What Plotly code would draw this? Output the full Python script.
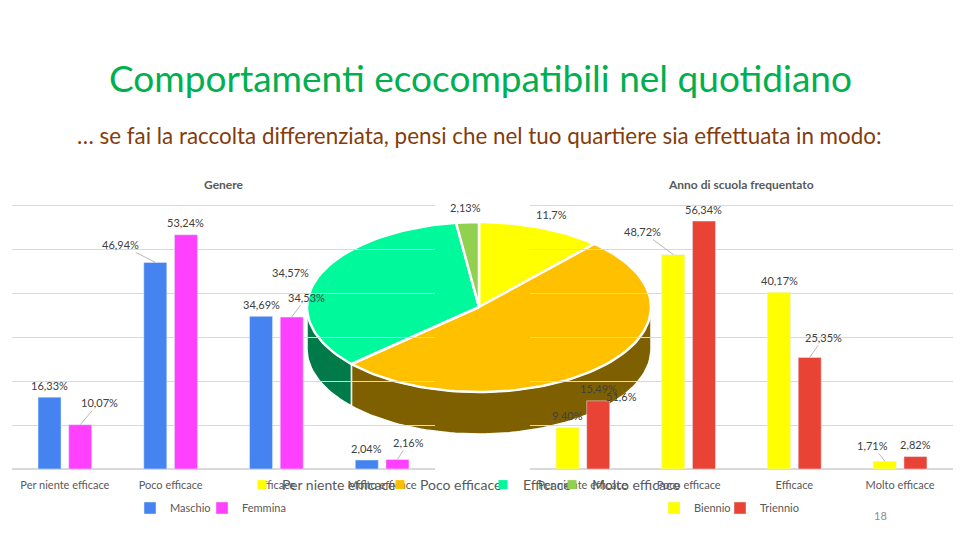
import numpy as np
import plotly.graph_objects as go

# ---------------- data ----------------
categories = ["Per niente efficace", "Poco efficace", "Efficace", "Molto efficace"]
maschio = [16.33, 46.94, 34.69, 2.04]
femmina = [10.07, 53.24, 34.53, 2.16]
biennio = [9.40, 48.72, 40.17, 1.71]
triennio = [15.49, 56.34, 25.35, 2.82]
pie_values = [11.7, 51.6, 34.57, 2.13]

# ---------------- styles ----------------
FONT = "Lato"
LBL = "#404040"
AX = "#595959"
GRID = "#D9D9D9"
col_m, col_f = "#4584F0", "#FF40FF"
col_b, col_t = "#FFFF00", "#E94335"
top_colors = ["#FFFF00", "#FFC000", "#00F99A", "#92D050"]
side_colors = ["#7F7F00", "#7F6000", "#007A48", "#4A7A28"]
pie_legend_widths = [93, 58, 24, None]
W, H = 960, 540


def fmt(v):
    return f"{v:.2f}".replace(".", ",") + "%"


fig = go.Figure()

# ---------------- pseudo-3D pie (pixel-space axes x/y) ----------------
CX, CY, RX, RY, DEPTH = 479, 307, 172, 85, 42
total = sum(pie_values)
bounds = np.concatenate([[0], np.cumsum(pie_values)]) / total * 360


def arc(a, b, dy=0.0):
    n = max(2, int(abs(b - a) / 2) + 2)
    t = np.radians(np.linspace(a, b, n))
    return CX + RX * np.sin(t), CY - RY * np.cos(t) + dy


for i in range(len(pie_values)):
    a, b = bounds[i], bounds[i + 1]
    lo, hi = max(a, 90), min(b, 270)
    if lo < hi:
        xt, yt = arc(lo, hi)
        xb, yb = arc(hi, lo, DEPTH)
        fig.add_trace(go.Scatter(
            x=np.concatenate([xt, xb, xt[:1]]), y=np.concatenate([yt, yb, yt[:1]]),
            mode="lines", fill="toself", fillcolor=side_colors[i],
            line=dict(color="white", width=1.5), showlegend=False, hoverinfo="skip",
            xaxis="x", yaxis="y"))

for i in range(len(pie_values)):
    a, b = bounds[i], bounds[i + 1]
    xa, ya = arc(a, b)
    fig.add_trace(go.Scatter(
        x=np.concatenate([[CX], xa, [CX]]), y=np.concatenate([[CY], ya, [CY]]),
        mode="lines", fill="toself", fillcolor=top_colors[i],
        line=dict(color="white", width=2.5), name=categories[i],
        showlegend=False, legendgroup=categories[i], hoverinfo="name",
        xaxis="x", yaxis="y"))

# pie legend entries (square swatches)
for i, cat in enumerate(categories):
    kw = dict(legendwidth=pie_legend_widths[i]) if pie_legend_widths[i] else {}
    fig.add_trace(go.Scatter(
        x=[None], y=[None], mode="markers", name=cat, legendgroup=cat,
        marker=dict(symbol="square", size=9, color=top_colors[i]),
        legend="legend", xaxis="x", yaxis="y", **kw))

# ---------------- bar charts ----------------
fig.add_trace(go.Bar(x=categories, y=maschio, name="Maschio", marker_color=col_m,
                     xaxis="x2", yaxis="y2", legend="legend2", legendwidth=27))
fig.add_trace(go.Bar(x=categories, y=femmina, name="Femmina", marker_color=col_f,
                     xaxis="x2", yaxis="y2", legend="legend2"))
fig.add_trace(go.Bar(x=categories, y=biennio, name="Biennio", marker_color=col_b,
                     xaxis="x3", yaxis="y3", legend="legend3", legendwidth=21))
fig.add_trace(go.Bar(x=categories, y=triennio, name="Triennio", marker_color=col_t,
                     xaxis="x3", yaxis="y3", legend="legend3"))

annotations = []
BAR_OFF = 15.25
# (dx, dy, leader) relative to bar top centre, pixels
off_m = [(0, -12, False), (-35, -18, True), (0, -12, False), (0, -12, False)]
off_f = [(19, -22, True), (0, -12, False), (15, -20, True), (11, -17, True)]
off_b = [(0, -12, False), (-31, -23, True), (0, -12, False), (-12, -16, True)]
off_t = [(0, -12, False), (0, -12, False), (14, -20, True), (0, -12, False)]


def bar_labels(vals, xref, yref, sign, offsets):
    for cat, v, (dx, dy, lead) in zip(categories, vals, offsets):
        base = dict(x=cat, y=v, xref=xref, yref=yref, text=fmt(v),
                    font=dict(family=FONT, size=11, color=LBL))
        if lead:
            base.update(xshift=sign * BAR_OFF, showarrow=True, ax=dx, ay=dy,
                        arrowhead=0, arrowwidth=0.8, arrowcolor="#A6A6A6", standoff=0)
        else:
            base.update(xshift=sign * BAR_OFF + dx, yshift=-dy, showarrow=False)
        annotations.append(base)


bar_labels(maschio, "x2", "y2", -1, off_m)
bar_labels(femmina, "x2", "y2", 1, off_f)
bar_labels(biennio, "x3", "y3", -1, off_b)
bar_labels(triennio, "x3", "y3", 1, off_t)

# pie labels
for i, v in enumerate(pie_values):
    mid = np.radians((bounds[i] + bounds[i + 1]) / 2)
    px = CX + RX * 1.17 * np.sin(mid)
    py = CY - RY * 1.17 * np.cos(mid)
    if np.cos(mid) < 0:
        py += DEPTH * 0.45
    annotations.append(dict(x=px, y=py, xref="x", yref="y", showarrow=False,
                            text=f"{v:g}".replace(".", ",") + "%",
                            font=dict(family=FONT, size=11, color=LBL)))

# titles
def paper_text(x, y, text, size, color):
    return dict(x=x / W, y=1 - y / H, xref="paper", yref="paper", showarrow=False,
                xanchor="center", yanchor="middle", text=text,
                font=dict(family=FONT, size=size, color=color))


annotations += [
    paper_text(480, 78, "Comportamenti ecocompatibili nel quotidiano", 37, "#00B050"),
    paper_text(479, 135, "… se fai la raccolta differenziata, pensi che nel tuo quartiere sia effettuata in modo:",
               22.4, "#843C0C"),
    paper_text(224, 184, "<b>Genere</b>", 12, AX),
    paper_text(741, 184, "<b>Anno di scuola frequentato</b>", 12, AX),
    paper_text(880, 515, "18", 11, "#8C8C8C"),
]

# y scale: 60 at y=205, 0 at y=469 ; range slightly above 60 so top grid shows
YMAX = 60.5
px_per = (469 - 205) / 60
ydom = [1 - 469 / H, 1 - (469 - YMAX * px_per) / H]
bar_y = dict(domain=ydom, range=[0, YMAX], dtick=10, showgrid=True, gridcolor=GRID,
             gridwidth=1, zeroline=True, zerolinecolor=GRID, showticklabels=False,
             fixedrange=True)
bar_x = dict(showgrid=False, ticks="", tickfont=dict(family=FONT, size=11, color=AX),
             ticklabelstandoff=8, fixedrange=True)

fig.update_layout(
    width=W, height=H,
    margin=dict(l=0, r=0, t=0, b=0),
    paper_bgcolor="white", plot_bgcolor="rgba(0,0,0,0)",
    barmode="group", bargap=0.42, bargroupgap=0.25,
    xaxis=dict(domain=[0, 1], range=[0, W], visible=False, fixedrange=True),
    yaxis=dict(domain=[0, 1], range=[H, 0], visible=False, fixedrange=True),
    xaxis2=dict(domain=[12 / W, 435 / W], anchor="y2", **bar_x),
    yaxis2=dict(anchor="x2", **bar_y),
    xaxis3=dict(domain=[530 / W, 953 / W], anchor="y3", **bar_x),
    yaxis3=dict(anchor="x3", **bar_y),
    legend=dict(orientation="h", x=242 / W, y=1 - 485 / H, xanchor="left", yanchor="middle",
                font=dict(family=FONT, size=14, color=AX), bgcolor="rgba(0,0,0,0)",
                itemclick=False, itemdoubleclick=False),
    legend2=dict(orientation="h", x=130 / W, y=1 - 508 / H, xanchor="left", yanchor="middle",
                 font=dict(family=FONT, size=11, color=AX), bgcolor="rgba(0,0,0,0)"),
    legend3=dict(orientation="h", x=654 / W, y=1 - 508 / H, xanchor="left", yanchor="middle",
                 font=dict(family=FONT, size=11, color=AX), bgcolor="rgba(0,0,0,0)"),
    annotations=annotations,
    showlegend=True,
)

fig.write_html("out.html", config={"displayModeBar": False},
               post_script="document.body.style.margin='0';")
